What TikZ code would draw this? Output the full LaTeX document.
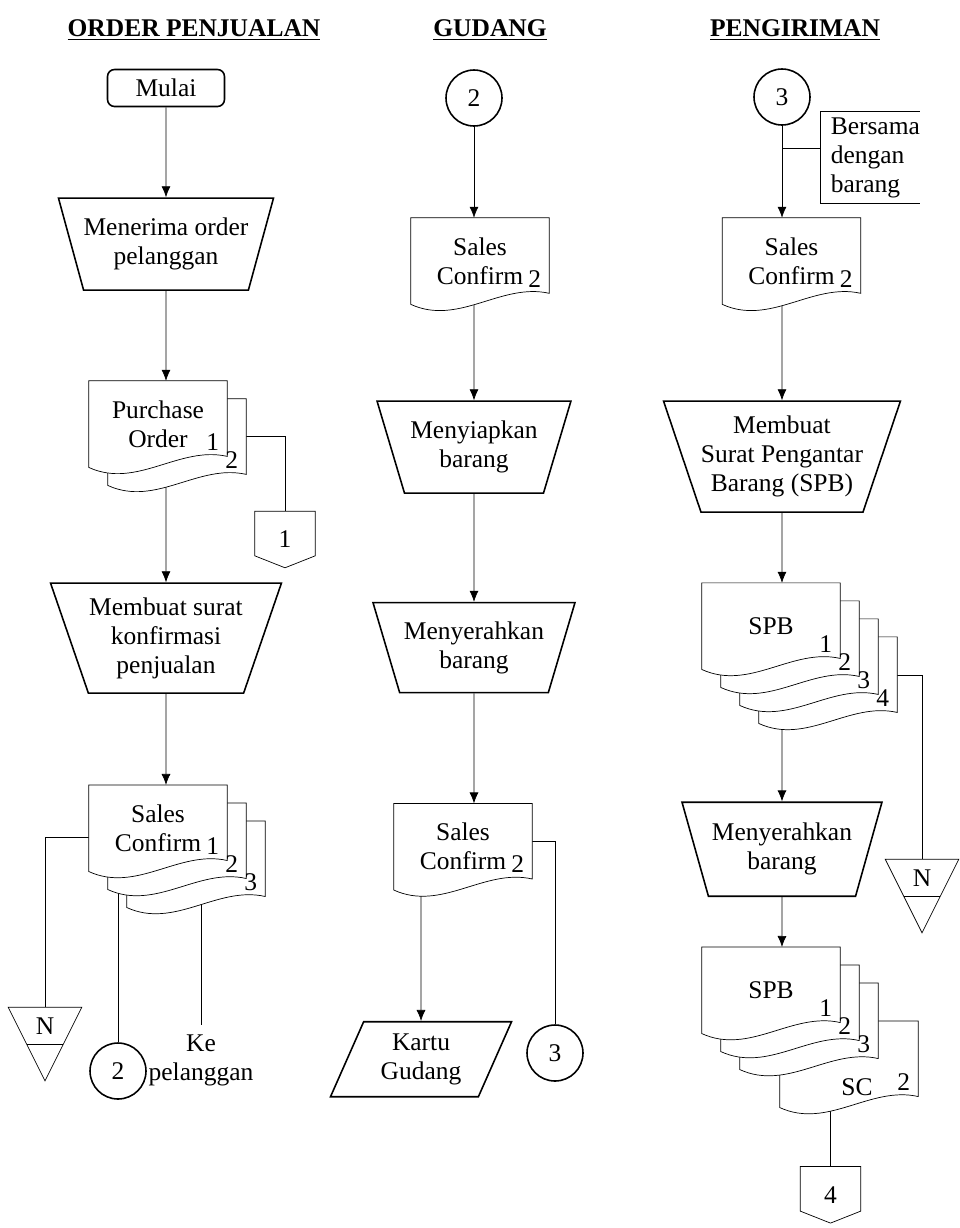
\documentclass[tikz,border=0pt]{standalone}
\usepackage{fontspec}
\setmainfont{Liberation Serif}
\usetikzlibrary{shapes.geometric, arrows.meta, positioning, calc}

\pgfdeclarelayer{wires}
\pgfdeclarelayer{sheets}
\pgfsetlayers{wires,sheets,main}

% one sheet of a document, shifted by (#2,#3)
\newcommand{\docpage}[3]{%
  \draw[sheet] ([shift={(#2,#3)}]#1.north west) -- ([shift={(#2,#3)}]#1.north east)
    -- ([shift={(#2,#3-11)}]#1.south east)
    .. controls +(-48,-11) and +(48,22) .. ([shift={(#2,#3)}]#1.south west) -- cycle;}
% copy number in the corner of a sheet
\newcommand{\docnum}[5]{%
  \node[pgnum, anchor=south east] (#1) at ([shift={(#3-6,#4-15)}]#2.south east) {#5};}
% off-page connector
\newcommand{\offpage}[1]{%
  \draw[sheet] (#1.north west) -- (#1.north east) -- ([yshift=0.24cm]#1.south east)
    -- (#1.south) -- ([yshift=0.24cm]#1.south west) -- cycle;}
% archive file (triangle)
\newcommand{\nfile}[1]{%
  \draw[sheet] (#1.north west) -- (#1.north east) -- ([yshift=-0.72cm]#1.south) -- cycle;
  \draw ([xshift=-0.36cm]#1.south) -- ([xshift=0.36cm]#1.south);}

\begin{document}
\begin{tikzpicture}[x=0.02cm, y=-0.02cm, line width=0.9pt, font=\fontsize{14.5}{16.5}\selectfont]
        \tikzset{
            headline/.style={font=\fontsize{14.5}{16.5}\selectfont\bfseries},
            startbox/.style={draw, fill=white, rounded corners=4pt, minimum width=2.34cm, minimum height=0.74cm},
            manop/.style={trapezium, draw, fill=white, shape border rotate=180, trapezium stretches=true,
                trapezium left angle=67, trapezium right angle=67, align=center, inner xsep=0pt, inner ysep=2pt},
            iobox/.style={trapezium, draw, fill=white, trapezium stretches=true, trapezium left angle=67,
                trapezium right angle=113, minimum width=3.64cm, minimum height=1.5cm, align=center},
            docbox/.style={text width=2.74cm, minimum height=1.7cm, align=center, inner sep=0pt},
            onpage/.style={circle, draw, fill=white, minimum size=1.12cm, inner sep=0pt},
            offconn/.style={minimum width=1.18cm, minimum height=1.1cm, inner sep=0pt},
            filebox/.style={minimum width=1.44cm, minimum height=0.72cm, inner sep=0pt},
            pgnum/.style={inner sep=1pt},
            sheet/.style={draw, fill=white},
            flow/.style={-{Latex[length=2.2mm, width=1.8mm]}}
        }
        \useasboundingbox (0,0) rectangle (960,1228);

        % --- HEADERS ---
        \node[headline] (hOrder) at (194,30) {\underline{ORDER PENJUALAN}};
        \node[headline] (hGudang) at (490,30) {\underline{GUDANG}};
        \node[headline] (hKirim) at (795,30) {\underline{PENGIRIMAN}};

        % --- ORDER PENJUALAN ---
        \node[startbox] (mulai) at (166,88) {Mulai};
        \node[manop, minimum width=4.22cm, minimum height=1.84cm, below=1.8cm of mulai] (terima) {Menerima order\\pelanggan};
        \node[docbox, below=1.8cm of terima, xshift=-0.16cm] (po) {Purchase\\Order};
        \node[offconn] (off1) at (285,539.5) {1};
        \node[manop, minimum width=4.62cm, minimum height=2.2cm, below=2.3cm of po, xshift=0.16cm] (mks) {Membuat surat\\konfirmasi\\penjualan};
        \node[docbox, below=1.82cm of mks, xshift=-0.16cm] (sc1) {Sales\\Confirm};
        \node[filebox] (n1) at (45,1026) {N};
        \node[onpage] (c2a) at (118,1071) {2};
        \node[align=center, inner sep=5pt] (kepel) at (201,1060) {Ke\\pelanggan};

        % --- GUDANG ---
        \node[onpage] (c2b) at (474,98) {2};
        \node[docbox, below=1.82cm of c2b, xshift=0.12cm] (scg) {Sales\\Confirm};
        \node[manop, minimum width=3.88cm, minimum height=1.84cm, below=1.92cm of scg, xshift=-0.12cm] (siap) {Menyiapkan\\barang};
        \node[manop, minimum width=4.04cm, minimum height=1.8cm, below=2.16cm of siap] (serah) {Menyerahkan\\barang};
        \node[docbox, below=2.2cm of serah, xshift=-0.22cm] (scg2) {Sales\\Confirm};
        \node[iobox, below=2.62cm of scg2, xshift=-0.84cm] (kg) {Kartu\\Gudang};
        \node[onpage] (c3a) at (555,1053) {3};

        % --- PENGIRIMAN ---
        \node[onpage] (c3b) at (782,97) {3};
        \node[anchor=west, text width=1.8cm, inner xsep=0.2cm, inner ysep=0.1cm, minimum height=1.82cm, align=left] (bersama) at (820,157.5) {Bersama\\dengan\\barang};
        \node[docbox, below=1.84cm of c3b, xshift=0.19cm] (scp) {Sales\\Confirm};
        \node[manop, minimum width=4.64cm, minimum height=2.22cm, below=1.92cm of scp, xshift=-0.19cm] (spbm) {Membuat\\Surat Pengantar\\Barang (SPB)};
        \node[docbox, below=1.4cm of spbm, xshift=-0.22cm] (spb1) {SPB};
        \node[filebox] (n3) at (922,878) {N};
        \node[manop, minimum width=4cm, minimum height=1.88cm, below=2.64cm of spb1, xshift=0.22cm] (serah3) {Menyerahkan\\barang};
        \node[docbox, below=1cm of serah3, xshift=-0.22cm] (spb2) {SPB};
        \node (sclbl) at ([shift={(86,97)}]spb2.center) {SC};
        \node[offconn, below=2.66cm of spb2, xshift=1.19cm] (off4) {4};

        % Sheets
        \begin{pgfonlayer}{sheets}
            \docpage{po}{19}{18} \docpage{po}{0}{0}
            \docpage{sc1}{38}{36} \docpage{sc1}{19}{18} \docpage{sc1}{0}{0}
            \docpage{scg}{0}{0}
            \docpage{scg2}{0}{0}
            \docpage{scp}{0}{0}
            \docpage{spb1}{57}{54} \docpage{spb1}{38}{36} \docpage{spb1}{19}{18} \docpage{spb1}{0}{0}
            \docpage{spb2}{78}{74} \docpage{spb2}{38}{36} \docpage{spb2}{19}{18} \docpage{spb2}{0}{0}
            \offpage{off1} \offpage{off4}
            \nfile{n1} \nfile{n3}
        \end{pgfonlayer}

        % Copy numbers
        \docnum{po-1}{po}{0}{0}{1} \docnum{po-2}{po}{19}{18}{2}
        \docnum{sc1-1}{sc1}{0}{0}{1} \docnum{sc1-2}{sc1}{19}{18}{2} \docnum{sc1-3}{sc1}{38}{36}{3}
        \docnum{scg-2}{scg}{0}{0}{2}
        \docnum{scg2-2}{scg2}{0}{0}{2}
        \docnum{scp-2}{scp}{0}{0}{2}
        \docnum{spb1-1}{spb1}{0}{0}{1} \docnum{spb1-2}{spb1}{19}{18}{2}
        \docnum{spb1-3}{spb1}{38}{36}{3} \docnum{spb1-4}{spb1}{57}{54}{4}
        \docnum{spb2-1}{spb2}{0}{0}{1} \docnum{spb2-2}{spb2}{19}{18}{2}
        \docnum{spb2-3}{spb2}{38}{36}{3} \docnum{spb2-sc}{spb2}{78}{74}{2}

        % Bracket note
        \draw ([xshift=-0.24cm]bersama.north east) -- (bersama.north west) -- (bersama.south west) -- ([xshift=-0.24cm]bersama.south east);

        \begin{pgfonlayer}{wires}
            % Arrows Order Penjualan
            \draw[flow] (mulai) -- (terima);
            \draw[flow] (terima) -- (terima |- po.north);
            \draw[flow] (mks |- po) -- (mks);
            \draw[flow] (mks) -- (mks |- sc1.north);
            \draw ([yshift=-0.25cm]po.east) -| (off1);
            \draw ([yshift=-0.19cm]sc1.west) -| (n1);
            \draw (c2a |- sc1) -- (c2a);
            \draw (kepel |- sc1) -- (kepel);

            % Arrows Gudang
            \draw[flow] (c2b) -- (c2b |- scg.north);
            \draw[flow] (siap |- scg) -- (siap);
            \draw[flow] (siap) -- (serah);
            \draw[flow] (serah) -- (serah |- scg2.north);
            \draw[flow] (kg |- scg2) -- (kg);
            \draw ([yshift=0.1cm]scg2.east) -| (c3a);

            % Arrows Pengiriman
            \draw[flow] (c3b) -- (c3b |- scp.north);
            \draw ([yshift=0.19cm]bersama.west) -- ([yshift=0.19cm]bersama.west -| c3b);
            \draw[flow] (spbm |- scp) -- (spbm);
            \draw[flow] (spbm) -- (spbm |- spb1.north);
            \draw ([yshift=-0.99cm]spb1.east) -| (n3);
            \draw[flow] (serah3 |- spb1) -- (serah3);
            \draw[flow] (serah3) -- (serah3 |- spb2.north);
            \draw (off4 |- spb2) -- (off4);
        \end{pgfonlayer}

    \end{tikzpicture}
\end{document}
